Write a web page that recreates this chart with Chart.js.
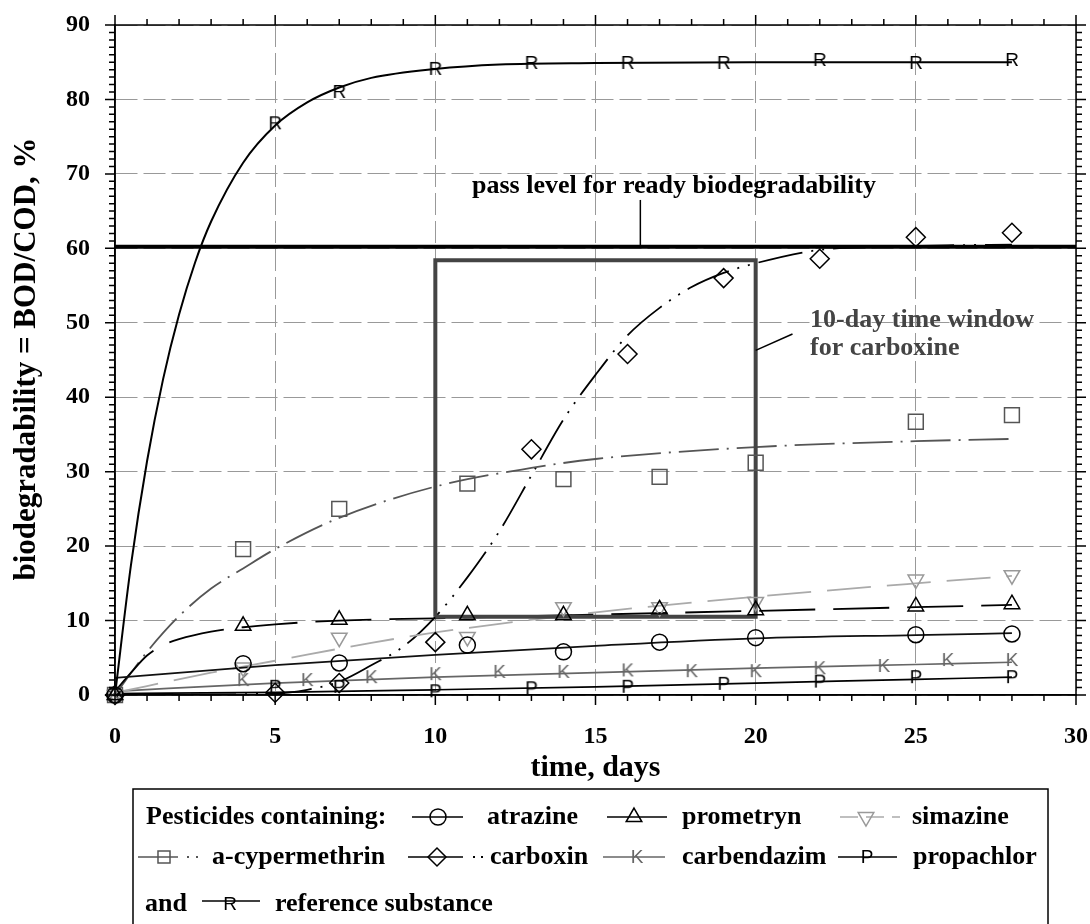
<!DOCTYPE html>
<html>
<head>
<meta charset="utf-8">
<script src="https://cdn.jsdelivr.net/npm/chart.js@4.4.0/dist/chart.umd.min.js"></script>
<style>
  body { margin: 0; background: #fff; }
  #wrap { position: relative; width: 1090px; height: 924px; }
</style>
</head>
<body>
<div id="wrap"><canvas id="c" width="1090" height="924"></canvas></div>
<script>
// measured points (days / % BOD/COD)
const dayA = [0, 4, 7, 11, 14, 17, 20, 25, 28];
const atrazine = [0, 4.2, 4.3, 6.7, 5.8, 7.1, 7.7, 8.1, 8.2];
const prometryn = [0, 9.3, 10.1, 10.7, 10.7, 11.5, 11.4, 11.9, 12.2];
const simazine = [0, 3.7, 7.7, 7.8, 11.8, 11.8, 12.5, 15.5, 16.1];
const cypermethrin = [0, 19.6, 25, 28.4, 29, 29.3, 31.2, 36.7, 37.6];

const dayB = [0, 5, 7, 10, 13, 16, 19, 22, 25, 28];
const carboxin = [0, 0.3, 1.6, 7.1, 33, 45.8, 56, 58.6, 61.5, 62.1];
const propachlor = [0, 1.1, 1.1, 0.5, 0.9, 1.1, 1.5, 1.8, 2.4, 2.4];
const reference = [0, 76.8, 81, 84.1, 84.9, 84.9, 84.9, 85.3, 84.9, 85.3];

const dayK = [0, 4, 6, 8, 10, 12, 14, 16, 18, 20, 22, 24, 26, 28];
const carbendazim = [0, 2.0, 2.0, 2.4, 2.8, 3.1, 3.1, 3.3, 3.2, 3.2, 3.6, 3.9, 4.7, 4.7];

// fitted curves
const fitDaysRef = [0, 0.5, 1, 1.5, 2, 2.5, 3, 4, 5, 6, 7, 8, 10, 12, 15, 20, 28];
const fitRef = [0, 17.5, 31.4, 42.4, 51.1, 58.1, 63.6, 71.5, 76.5, 79.6, 81.6, 82.9, 84.1, 84.7, 84.9, 85, 85];
const fitDaysPro = [0, 0.5, 1, 1.5, 2, 3, 4, 5, 7, 10, 15, 20, 25, 28];
const fitPro = [0.5, 3, 5.3, 6.7, 7.5, 8.5, 9.1, 9.5, 10, 10.3, 10.8, 11.3, 11.8, 12.1];
const fitDaysSim = [0, 1, 3, 5, 8, 10, 15, 20, 25, 28];
const fitSim = [0.3, 1.2, 3, 4.6, 7, 8.4, 11.1, 13.2, 15, 16];
const fitDaysCyp = [0, 1, 2, 3, 4, 5, 7, 10, 13, 15, 20, 25, 28];
const fitCyp = [0, 5.8, 10.6, 14.3, 17, 19.6, 23.8, 28, 30.5, 31.7, 33.3, 34.1, 34.4];
const fitDaysCbx = [0, 5, 6, 7, 8, 9, 10, 11, 12, 13, 14, 15, 16, 17, 18, 19, 20, 22, 24, 26, 28];
const fitCbx = [0, 0.2, 0.7, 1.8, 4, 6.5, 10.5, 15.8, 22, 29.5, 37, 43, 48.3, 52, 54.8, 56.7, 58, 59.8, 60.2, 60.4, 60.5];
const fitDaysLin = [0, 5, 10, 15, 20, 25, 28];
const fitAtr = [2.3, 4.0, 5.4, 6.6, 7.6, 8.05, 8.3];
const fitCbd = [0.5, 1.6, 2.4, 3.0, 3.6, 4.1, 4.4];
const fitPrp = [0.2, 0.35, 0.7, 1.1, 1.6, 2.1, 2.4];

const passLevel = 60.2;
const windowDays = [10, 20];
const windowRange = [10.5, 58.4];

const xTicks = [0, 5, 10, 15, 20, 25, 30];
const yTicks = [0, 10, 20, 30, 40, 50, 60, 70, 80, 90];

const SERIF = '"Liberation Serif", "Times New Roman", serif';

function pts(xs, ys) {
    return xs.map(function(x, i) { return { x: x, y: ys[i] }; });
}

// letter markers (K, P, R) as little canvases
function letterPoint(ch, color) {
    var c = document.createElement('canvas');
    c.width = 22; c.height = 22;
    var g = c.getContext('2d');
    g.fillStyle = color;
    g.font = '19px "Liberation Sans", Arial, sans-serif';
    g.textAlign = 'center';
    g.textBaseline = 'middle';
    g.fillText(ch, 11, 12);
    return c;
}
var imgK = letterPoint('K', '#666');
var imgP = letterPoint('P', '#000');
var imgR = letterPoint('R', '#000');

function fitLine(xs, ys, color, dash, width) {
    return {
        data: pts(xs, ys), borderColor: color, borderWidth: width || 1.7,
        borderDash: dash || [], pointRadius: 0, fill: false,
        cubicInterpolationMode: 'monotone', order: 3
    };
}

function markers(xs, ys, style, color, radius, rotation) {
    return {
        data: pts(xs, ys), showLine: false, pointStyle: style,
        pointRadius: radius, pointRotation: rotation || 0,
        pointBorderColor: color, pointBackgroundColor: 'rgba(0,0,0,0)',
        pointBorderWidth: 1.5, clip: false, order: 1
    };
}

var datasets = [
    fitLine(fitDaysRef, fitRef, '#000', [], 2),
    fitLine(fitDaysLin, fitAtr, '#111', [], 1.7),
    fitLine(fitDaysPro, fitPro, '#000', [56, 18], 1.8),
    fitLine(fitDaysSim, fitSim, '#aaa', [44, 16], 1.8),
    fitLine(fitDaysCyp, fitCyp, '#555', [40, 8, 2, 8], 1.8),
    fitLine(fitDaysCbx, fitCbx, '#000', [45, 9, 2, 9, 2, 9], 1.8),
    fitLine(fitDaysLin, fitCbd, '#666', [], 1.7),
    fitLine(fitDaysLin, fitPrp, '#000', [], 1.7),
    {
        data: pts([0, 30], [passLevel, passLevel]), borderColor: '#000',
        borderWidth: 4, pointRadius: 0, order: 2
    },
    {
        data: pts([windowDays[0], windowDays[0], windowDays[1], windowDays[1], windowDays[0]],
                  [windowRange[0], windowRange[1], windowRange[1], windowRange[0], windowRange[0]]),
        borderColor: '#444', borderWidth: 4, pointRadius: 0, borderJoinStyle: 'miter', order: 2
    },
    markers(dayA, atrazine, 'circle', '#000', 8),
    markers(dayA, prometryn, 'triangle', '#000', 9),
    markers(dayA, simazine, 'triangle', '#999', 9, 180),
    markers(dayA, cypermethrin, 'rect', '#555', 10.5),
    markers(dayB, carboxin, 'rectRot', '#000', 9.5),
    markers(dayK, carbendazim, imgK, '#666', 10),
    markers(dayB, propachlor, imgP, '#000', 10),
    markers(dayB, reference, imgR, '#000', 10)
];

function mark(g, style, color, x, y, radius, rotation) {
    g.save();
    g.strokeStyle = color;
    g.fillStyle = 'rgba(0,0,0,0)';
    g.lineWidth = 1.5;
    g.setLineDash([]);
    Chart.helpers.drawPoint(g, { pointStyle: style, radius: radius, rotation: rotation || 0, borderWidth: 1.5 }, x, y);
    g.restore();
}

function hline(g, x1, x2, y, color, dash) {
    g.save();
    g.strokeStyle = color;
    g.lineWidth = 1.6;
    g.setLineDash(dash || []);
    g.beginPath(); g.moveTo(x1, y); g.lineTo(x2, y); g.stroke();
    g.restore();
}

function dots(g, xs, y, color) {
    g.save();
    g.fillStyle = color;
    xs.forEach(function(x) { g.fillRect(x - 1, y - 1, 2, 2); });
    g.restore();
}

var decor = {
    id: 'decor',
    afterDatasetsDraw: function(chart) {
        var g = chart.ctx, xs = chart.scales.x, ys = chart.scales.y;
        var a = chart.chartArea;
        g.save();
        // leaders
        g.strokeStyle = '#000'; g.lineWidth = 1.5;
        g.beginPath();
        g.moveTo(xs.getPixelForValue(16.4), ys.getPixelForValue(66.5));
        g.lineTo(xs.getPixelForValue(16.4), ys.getPixelForValue(passLevel));
        g.stroke();
        g.beginPath();
        g.moveTo(xs.getPixelForValue(20.0), ys.getPixelForValue(46.3));
        g.lineTo(xs.getPixelForValue(21.15), ys.getPixelForValue(48.5));
        g.stroke();
        // labels
        g.font = 'bold 26px ' + SERIF;
        g.textBaseline = 'alphabetic';
        g.fillStyle = '#000';
        g.textAlign = 'center';
        g.fillText('pass level for ready biodegradability', xs.getPixelForValue(17.45), ys.getPixelForValue(67.4));
        g.fillStyle = '#444';
        g.textAlign = 'left';
        g.fillText('10-day time window', xs.getPixelForValue(21.7), ys.getPixelForValue(49.4));
        g.fillText('for carboxine', xs.getPixelForValue(21.7), ys.getPixelForValue(45.7));

        // frame and outside ticks
        g.strokeStyle = '#000'; g.lineWidth = 1.5;
        g.strokeRect(a.left, a.top, a.right - a.left, a.bottom - a.top);
        g.beginPath();
        for (var d = 0; d <= 30; d++) {
            var px = xs.getPixelForValue(d), len = d % 5 === 0 ? 10 : 6;
            g.moveTo(px, a.bottom); g.lineTo(px, a.bottom + len);
            g.moveTo(px, a.top); g.lineTo(px, a.top - len);
        }
        for (var v = 0; v <= 90; v++) {
            var py = ys.getPixelForValue(v), l2 = v % 10 === 0 ? 10 : 6;
            g.moveTo(a.left, py); g.lineTo(a.left - l2, py);
            g.moveTo(a.right, py); g.lineTo(a.right + l2, py);
        }
        g.stroke();

        // axis titles
        g.fillStyle = '#000';
        g.font = 'bold 30px ' + SERIF;
        g.textAlign = 'center';
        g.fillText('time, days', (a.left + a.right) / 2, 776);
        g.save();
        g.translate(35, 359);
        g.rotate(-Math.PI / 2);
        g.font = 'bold 31px ' + SERIF;
        g.fillText('biodegradability = BOD/COD, %', 0, 0);
        g.restore();
        g.restore();
    },
    afterDraw: function(chart) {
        var g = chart.ctx;
        g.save();
        g.strokeStyle = '#000'; g.lineWidth = 1.5;
        g.strokeRect(133, 789, 915, 150);
        g.font = 'bold 26px ' + SERIF;
        g.fillStyle = '#000';
        g.textAlign = 'left';
        g.textBaseline = 'alphabetic';

        // row 1
        g.fillText('Pesticides containing:', 146, 824);
        hline(g, 412, 463, 817, '#000');
        mark(g, 'circle', '#000', 438, 817, 8);
        g.fillText('atrazine', 487, 824);
        hline(g, 607, 667, 817, '#000');
        mark(g, 'triangle', '#000', 634, 817, 9);
        g.fillText('prometryn', 682, 824);
        hline(g, 840, 900, 817, '#aaa', [18, 8]);
        mark(g, 'triangle', '#999', 866, 817, 9, 180);
        g.fillText('simazine', 912, 824);

        // row 2
        hline(g, 138, 178, 857, '#555');
        mark(g, 'rect', '#555', 164, 857, 8.5);
        dots(g, [188, 197], 857, '#555');
        g.fillText('a-cypermethrin', 212, 864);
        hline(g, 408, 463, 857, '#000');
        mark(g, 'rectRot', '#000', 437, 857, 9);
        dots(g, [474, 482], 857, '#000');
        g.fillText('carboxin', 490, 864);
        hline(g, 603, 665, 857, '#666');
        g.drawImage(imgK, 637 - 11, 857 - 11);
        g.fillText('carbendazim', 682, 864);
        hline(g, 838, 897, 857, '#000');
        g.drawImage(imgP, 867 - 11, 857 - 11);
        g.fillText('propachlor', 913, 864);

        // row 3
        g.fillText('and', 145, 911);
        hline(g, 202, 260, 901, '#000');
        g.drawImage(imgR, 230 - 11, 904 - 11);
        g.fillText('reference substance', 275, 911);
        g.restore();
    }
};

var tickFont = { family: SERIF, size: 24, weight: 'bold' };

function noPadX(s) { s.height = 229; s.paddingLeft = 0; s.paddingRight = 0; }
function noPadY(s) { s.width = 115; s.paddingTop = 0; s.paddingBottom = 0; }

new Chart(document.getElementById('c').getContext('2d'), {
    type: 'line',
    data: { datasets: datasets },
    options: {
        responsive: false,
        animation: false,
        layout: { padding: { top: 25, right: 14, left: 0, bottom: 0 } },
        plugins: { legend: { display: false }, tooltip: { enabled: false } },
        scales: {
            x: {
                type: 'linear', min: 0, max: 30,
                afterBuildTicks: function(s) { s.ticks = xTicks.map(function(v) { return { value: v }; }); },
                afterFit: noPadX,
                ticks: { font: tickFont, color: '#000', padding: 27, maxRotation: 0 },
                grid: { color: '#999', lineWidth: 1, drawTicks: false },
                border: { display: true, color: '#000', width: 1.5, dash: [22, 6] }
            },
            y: {
                type: 'linear', min: 0, max: 90,
                afterBuildTicks: function(s) { s.ticks = yTicks.map(function(v) { return { value: v }; }); },
                afterFit: noPadY,
                ticks: { font: tickFont, color: '#000', padding: 25 },
                grid: { color: '#999', lineWidth: 1, drawTicks: false },
                border: { display: true, color: '#000', width: 1.5, dash: [22, 6] }
            }
        }
    },
    plugins: [decor]
});
</script>
</body>
</html>
